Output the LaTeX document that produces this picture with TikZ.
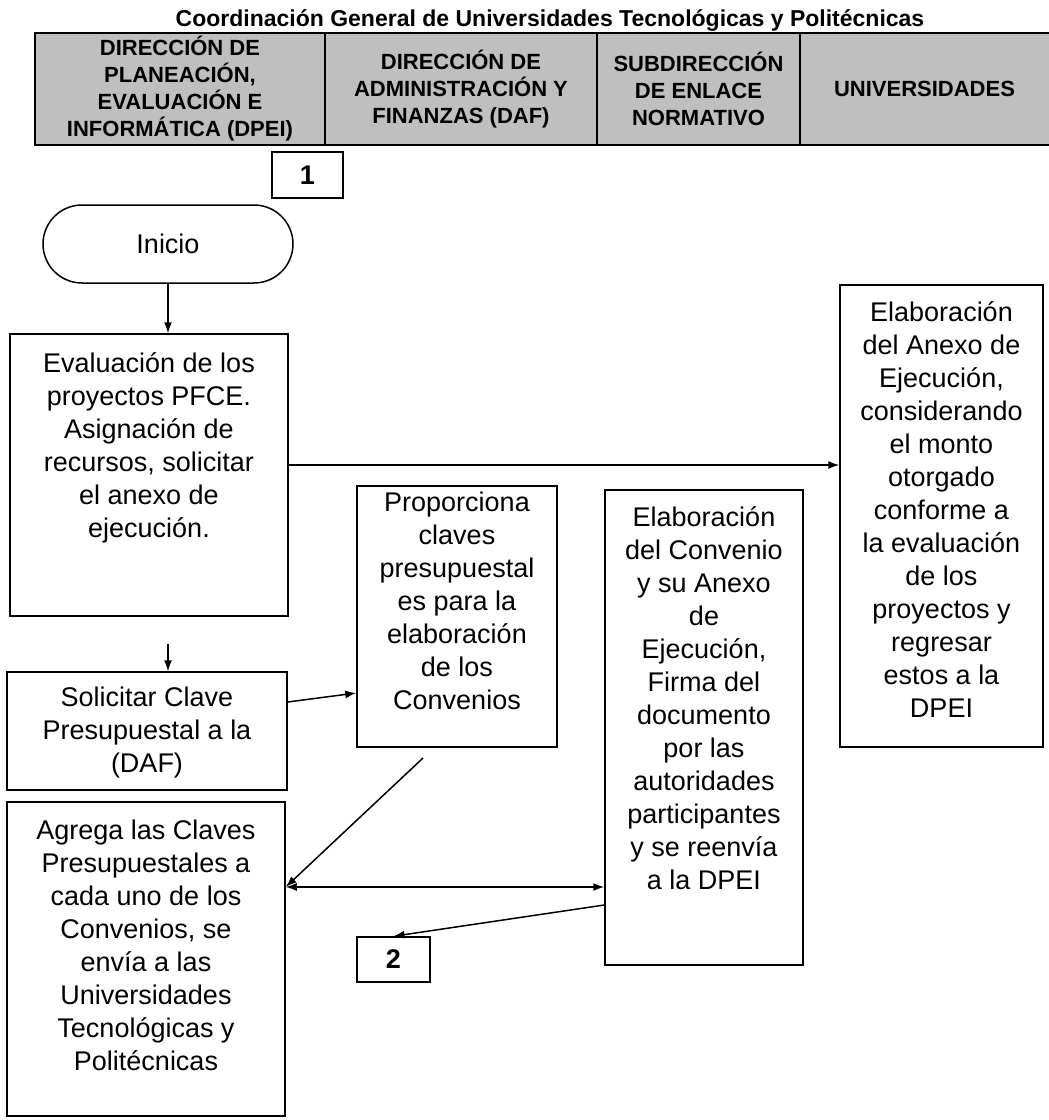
\documentclass[tikz,border=0pt]{standalone}
\usepackage{fontspec}
\setmainfont{Liberation Sans}
\usetikzlibrary{arrows.meta}
\newcommand\bxt[4]{\parbox[c][#2][t]{#1}{\centering\fontsize{27}{33}\selectfont\vspace*{#3}\strut#4\par}}
\begin{document}
\begin{tikzpicture}[x=1pt,y=-1pt,
  fbox/.style={draw, line width=1.5pt, inner sep=0pt},
  hcell/.style={fill=gray!50, inner sep=0pt, minimum height=112pt, align=center, font=\fontsize{22}{27}\selectfont\bfseries},
  arr/.style={line width=1.5pt, -{Latex[length=11pt,width=8pt]}},
  darr/.style={line width=1.5pt, {Latex[length=11pt,width=8pt]}-{Latex[length=11pt,width=8pt]}},
  numbox/.style={draw, line width=1.5pt, inner sep=0pt, font=\fontsize{27}{33}\selectfont\bfseries}]
\useasboundingbox (0,0) rectangle (1049,1120);

\node[font=\fontsize{23}{26}\selectfont\bfseries] (title) at (550,20) {Coordinación General de Universidades Tecnológicas y Politécnicas};

\node[hcell, minimum width=290pt] (h1) at (180,89) {DIRECCIÓN DE\\PLANEACIÓN,\\EVALUACIÓN E\\INFORMÁTICA (DPEI)};
\node[hcell, minimum width=272pt] (h2) at (461,89) {DIRECCIÓN DE\\ADMINISTRACIÓN Y\\FINANZAS (DAF)};
\node[hcell, minimum width=203pt] (h3) at (698.5,89) {SUBDIRECCIÓN\\DE ENLACE\\NORMATIVO};
\node[hcell, minimum width=249pt] (h4) at (924.5,89) {UNIVERSIDADES};
\draw[line width=1.5pt] (h4.north east) -- (h1.north west) -- (h1.south west) -- (h4.south east);
\draw[line width=1.5pt] (h1.north east) -- (h1.south east);
\draw[line width=1.5pt] (h2.north east) -- (h2.south east);
\draw[line width=1.5pt] (h3.north east) -- (h3.south east);

\node[numbox, minimum width=71pt, minimum height=46pt] (n1) at (307.5,175) {1};
\node[draw, line width=1.5pt, rounded corners=39pt, minimum width=250pt, minimum height=78pt, inner sep=0pt, font=\fontsize{27}{33}\selectfont] (inicio) at (168,244) {Inicio};

\node[fbox] (eval) at (149,475) {\bxt{278pt}{282pt}{15pt}{Evaluación de los\\proyectos PFCE.\\Asignación de\\recursos, solicitar\\el anexo de\\ejecución.}};
\node[fbox] (solic) at (147,731) {\bxt{280pt}{118pt}{11pt}{Solicitar Clave\\Presupuestal a la\\(DAF)}};
\node[fbox] (agrega) at (146,959) {\bxt{278pt}{314pt}{14pt}{Agrega las Claves\\Presupuestales a\\cada uno de los\\Convenios, se\\envía a las\\Universidades\\Tecnológicas y\\Politécnicas}};
\node[fbox] (propor) at (457,616.5) {\bxt{200pt}{261pt}{2pt}{Proporciona\\claves\\presupuestal\\es para la\\elaboración\\de los\\Convenios}};
\node[fbox] (conv) at (704,727.5) {\bxt{198pt}{475pt}{13pt}{Elaboración\\del Convenio\\y su Anexo\\de\\Ejecución,\\Firma del\\documento\\por las\\autoridades\\participantes\\y se reenvía\\a la DPEI}};
\node[fbox] (anexo) at (941.5,516) {\bxt{203pt}{462pt}{13pt}{Elaboración\\del Anexo de\\Ejecución,\\considerando\\el monto\\otorgado\\conforme a\\la evaluación\\de los\\proyectos y\\regresar\\estos a la\\DPEI}};
\node[numbox, minimum width=73pt, minimum height=45pt] (n2) at (393.5,959.5) {2};

\draw[arr] (inicio.south) -- (inicio.south |- eval.north);
\path (inicio.south |- eval.south) ++(0,27) coordinate (s1);
\draw[arr] (s1) -- (s1 |- solic.north);
\path (eval.east) ++(0,-10) coordinate (e1);
\draw[arr] (e1) -- (e1 -| anexo.west);
\draw[arr] ([yshift=29pt]solic.east) -- ([yshift=-76.5pt]propor.west);
\coordinate (d1) at (423,758);
\draw[arr] (d1) -- ([yshift=72pt]agrega.east);
\draw[darr] ([yshift=72pt]agrega.east) -- ([yshift=72pt]agrega.east -| conv.west);
\draw[arr] ([yshift=-177.5pt]conv.west) -- (n2.north);
\end{tikzpicture}
\end{document}
